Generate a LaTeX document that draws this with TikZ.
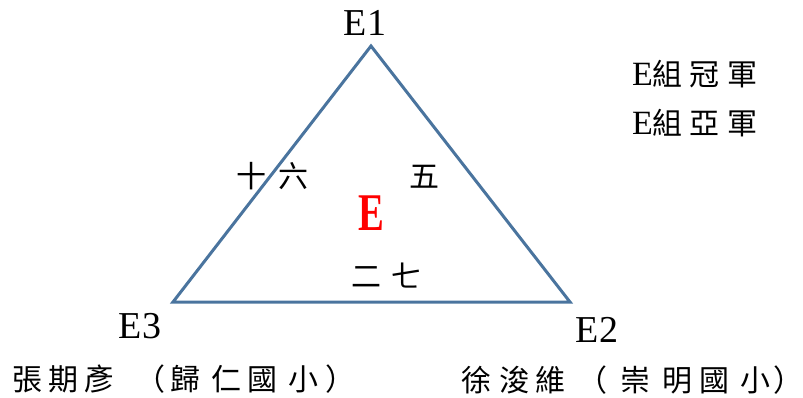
\documentclass[tikz,border=0pt]{standalone}
\usepackage{fontspec}
\setmainfont{Liberation Serif}
\newfontfamily\cjk{Noto Sans CJK TC}
\definecolor{triblue}{RGB}{74,116,158}
\tikzset{
  cj/.style={font=\cjk\fontsize{30}{30}\selectfont, inner sep=0pt},
  lat/.style={font=\fontsize{38}{38}\selectfont, inner sep=0pt},
  tri/.style={draw=triblue, line width=3pt, line join=miter},
}
\begin{document}
\begin{tikzpicture}[x=1pt,y=-1pt]
\useasboundingbox (0,0) rectangle (803,398);
\coordinate (A) at (371,46);
\coordinate (B) at (173,302);
\coordinate (C) at (570,302);
\draw[tri] (A) -- (C) -- (B) -- cycle;
\node[lat] (e1) at (365,23) {E1};
\node[lat] (e2) at (597,330) {E2};
\node[lat] (e3) at (140,326) {E3};
\node[cj] (sixteen) at (272,176) {十\hspace{12pt}六};
\node[cj] (five) at (424,177) {五};
\node[cj] (twentyseven) at (386.5,276) {二\hspace{11pt}七};
\node[inner sep=0pt, text=red] (bigE) at (371,213) {\scalebox{0.73}[1]{\fontsize{53}{53}\selectfont\bfseries E}};
\node[cj, anchor=west] (champ) at (632,74) {{\rmfamily\fontsize{34}{34}\selectfont E}組\hspace{7pt}冠\hspace{8pt}軍};
\node[cj, anchor=west] (runner) at (632,123) {{\rmfamily\fontsize{34}{34}\selectfont E}組\hspace{7pt}亞\hspace{8pt}軍};
\node[cj, anchor=west] (left) at (12,379) {張\hspace{6pt}期\hspace{6pt}彥\hspace{21pt}（\hspace{5pt}歸\hspace{11pt}仁\hspace{6pt}國\hspace{11pt}小\hspace{7pt}）};
\node[cj, anchor=west] (right) at (461,380) {徐\hspace{8pt}浚\hspace{6pt}維\hspace{12pt}（\hspace{13pt}崇\hspace{12pt}明\hspace{7pt}國\hspace{11pt}小\hspace{3pt}）};
\end{tikzpicture}
\end{document}
